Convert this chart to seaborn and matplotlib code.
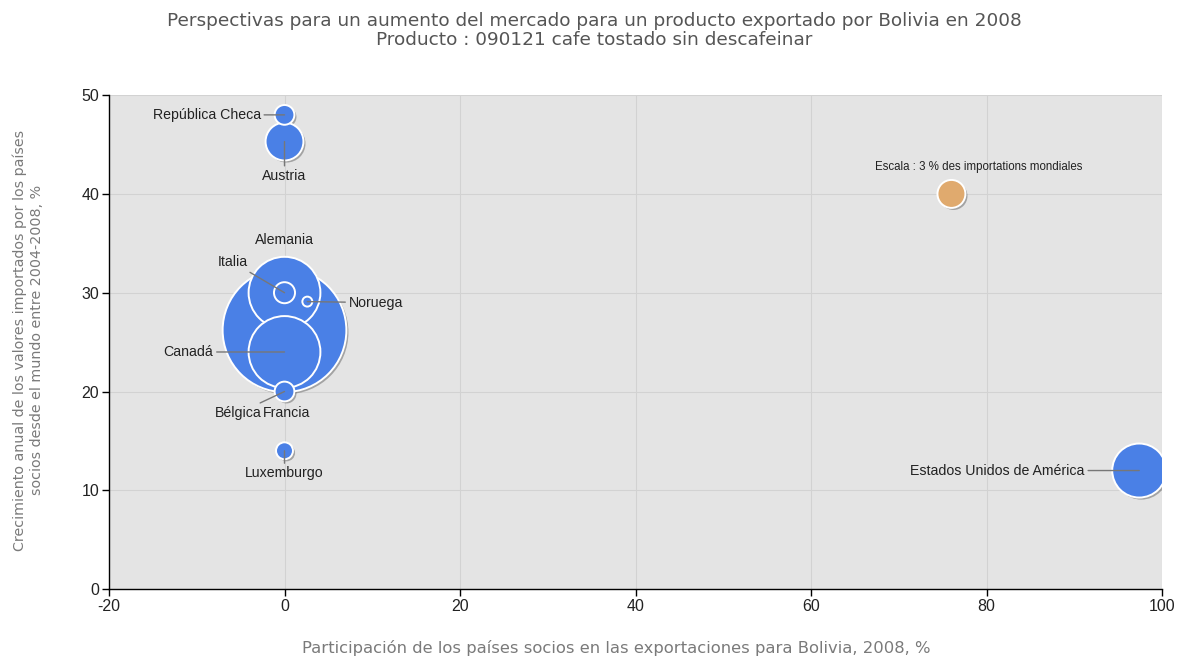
import matplotlib
matplotlib.use("Agg")
import matplotlib.pyplot as plt
import matplotlib.patheffects as pe
import seaborn as sns
import pandas as pd

# ---- data ----
countries = ["Francia", "Alemania", "Canadá", "Estados Unidos de América", "Austria",
             "Italia", "República Checa", "Bélgica", "Luxemburgo", "Noruega"]
share_bolivia = [0.0, 0.0, 0.0, 97.4, 0.0, 0.0, 0.0, 0.0, 0.0, 2.6]     # x, %
growth = [26.2, 30.0, 24.0, 12.0, 45.3, 30.0, 48.0, 20.0, 14.0, 29.1]   # y, %
world_share = [58.8, 19.8, 19.8, 11.2, 5.5, 1.7, 1.5, 1.5, 1.1, 0.38]   # bubble, %
scale_x, scale_y, scale_share = 76.0, 40.0, 3.0
scale_label = "Escala : 3 % des importations mondiales"

title = ("Perspectivas para un aumento del mercado para un producto exportado por Bolivia en 2008\n"
         "Producto : 090121 cafe tostado sin descafeinar")
xlabel = "Participación de los países socios en las exportaciones para Bolivia, 2008, %"
ylabel = ("Crecimiento anual de los valores importados por los países\n"
          "socios desde el mundo entre 2004-2008, %")
xticks = [-20, 0, 20, 40, 60, 80, 100]
yticks = [0, 10, 20, 30, 40, 50]

df = pd.DataFrame({"pais": countries, "x": share_bolivia, "y": growth, "s": world_share})
df = df.sort_values("s", ascending=False)

sns.set_theme(style="white")
plt.rcParams["font.family"] = ["DejaVu Sans"]
plt.rcParams["axes.unicode_minus"] = False

fig = plt.figure(figsize=(11.77, 6.56), dpi=100)
ax = fig.add_axes([0.0926, 0.102, 0.8947, 0.753])
ax.set_facecolor("#e4e4e4")

K = 135.0  # points^2 per percent
smax = 60.0
shadow = [pe.SimplePatchShadow(offset=(1.5, -1.5), shadow_rgbFace="#555555", alpha=0.45), pe.Normal()]

sns.scatterplot(data=df, x="x", y="y", size="s", sizes=(0, K * smax), size_norm=(0, smax),
                color="#4a80e6", edgecolor="white", linewidth=1.4, legend=False, ax=ax, zorder=3)
ax.collections[-1].set_path_effects(shadow)

sdf = pd.DataFrame({"x": [scale_x], "y": [scale_y], "s": [scale_share]})
sns.scatterplot(data=sdf, x="x", y="y", size="s", sizes=(0, K * smax), size_norm=(0, smax),
                color="#e0aa6e", edgecolor="white", linewidth=1.4, legend=False, ax=ax, zorder=3)
ax.collections[-1].set_path_effects(shadow)

# ---- labels ----
lab_font = dict(family=["Liberation Sans", "DejaVu Sans"], fontsize=10.2, color="#222222")
line_kw = dict(arrowstyle="-", color="#777777", lw=1.0, shrinkA=0, shrinkB=0)
pos = dict(zip(countries, zip(share_bolivia, growth)))

def lab(name, tx, ty, ha, va, line=True):
    px, py = pos[name]
    ax.annotate(name, xy=(px, py), xytext=(tx, ty), ha=ha, va=va, zorder=5,
                arrowprops=line_kw if line else None, **lab_font)

lab("República Checa", -2.7, 48.0, "right", "center")
lab("Austria", 0.0, 41.8, "center", "center")
lab("Alemania", 0.0, 35.3, "center", "center", line=False)
lab("Italia", -4.2, 33.1, "right", "center")
lab("Noruega", 7.3, 29.0, "left", "center")
lab("Canadá", -8.1, 24.0, "right", "center")
lab("Bélgica", -2.6, 17.8, "right", "center")
lab("Francia", -2.5, 17.8, "left", "center", line=False)
lab("Luxemburgo", 0.0, 11.7, "center", "center")
lab("Estados Unidos de América", 91.2, 12.0, "right", "center")
ax.text(79.1, 42.7, scale_label, ha="center", va="center", zorder=5,
        family=["Liberation Sans", "DejaVu Sans"], fontsize=8.3, color="#222222")

# ---- axes ----
ax.set_xlim(-20, 100)
ax.set_ylim(0, 50)
ax.set_xticks(xticks)
ax.set_yticks(yticks)
ax.grid(True, color="#d2d2d2", lw=0.8, zorder=0)
ax.set_axisbelow(True)
for s in ["top", "right"]:
    ax.spines[s].set_visible(False)
for s in ["left", "bottom"]:
    ax.spines[s].set_color("black")
    ax.spines[s].set_linewidth(1.0)
ax.tick_params(axis="both", direction="out", length=5, width=1, color="black",
               labelsize=11.5, labelcolor="#222222", pad=2, left=True, bottom=True)
for t in ax.get_xticklabels() + ax.get_yticklabels():
    t.set_family(["Liberation Sans", "DejaVu Sans"])
ax.set_xlabel("")
ax.set_ylabel("")

fig.text(616 / 1177, 1 - 648 / 656, xlabel, ha="center", va="center", fontsize=11.8, color="#7a7a7a")
fig.text(28.5 / 1177, 1 - 340 / 656, ylabel, ha="center", va="center", rotation=90,
         fontsize=10.3, color="#7a7a7a", linespacing=1.25)
fig.text(594 / 1177, 1 - 12 / 656, title, ha="center", va="top", fontsize=13.3, color="#555555",
         linespacing=1.05)

fig.savefig("out.png", dpi=100)
